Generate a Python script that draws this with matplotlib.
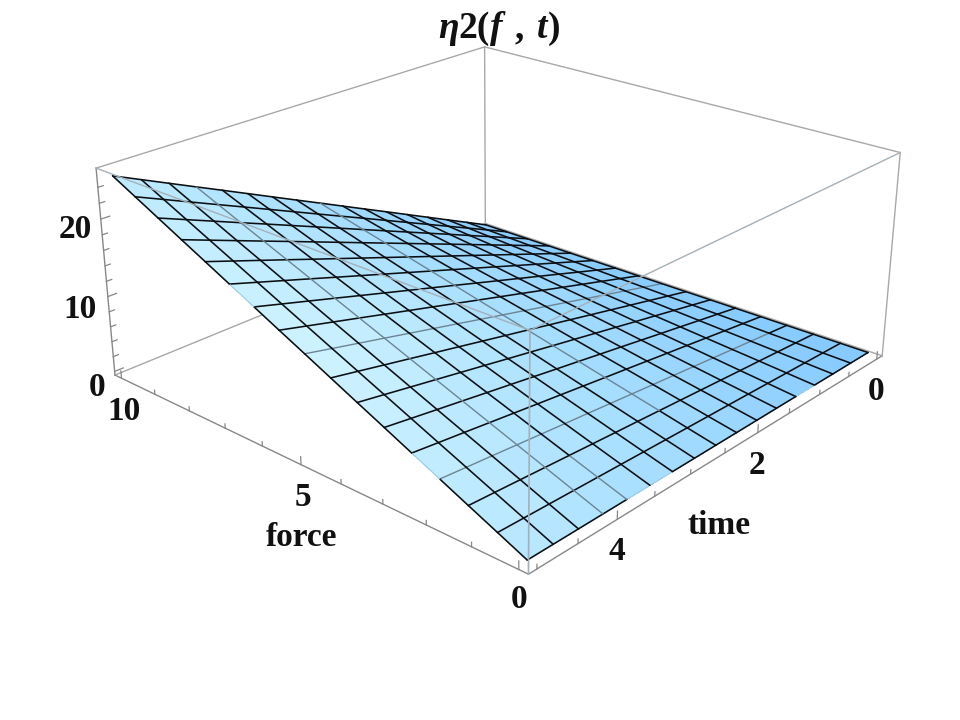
import matplotlib
matplotlib.use('Agg')
import matplotlib.pyplot as plt
from matplotlib.colors import LinearSegmentedColormap
import numpy as np

plt.rcParams['font.family'] = ['Liberation Serif', 'DejaVu Serif']
plt.rcParams['font.weight'] = 'bold'

force = [0, 0.625, 1.25, 1.875, 2.5, 3.125, 3.75, 4.375, 5, 5.625, 6.25, 6.875, 7.5, 8.125, 8.75, 9.375, 10]
time = [0, 0.3125, 0.625, 0.9375, 1.25, 1.5625, 1.875, 2.1875, 2.5, 2.8125, 3.125, 3.4375, 3.75, 4.0625, 4.375, 4.6875, 5]

# eta2, one row per force value, one column per time value
eta2 = [
    [0, 0, 0, 0, 0, 0, 0, 0, 0, 0, 0, 0, 0, 0, 0, 0, 0],
    [0, .10, .20, .30, .40, .50, .60, .69, .79, .89, .99, 1.09, 1.19, 1.29, 1.39, 1.49, 1.59],
    [0, .20, .40, .60, .79, .99, 1.19, 1.39, 1.59, 1.79, 1.98, 2.18, 2.38, 2.58, 2.78, 2.98, 3.17],
    [0, .30, .60, .89, 1.19, 1.49, 1.79, 2.08, 2.38, 2.68, 2.98, 3.27, 3.57, 3.87, 4.17, 4.46, 4.76],
    [0, .40, .79, 1.19, 1.59, 1.98, 2.38, 2.78, 3.17, 3.57, 3.97, 4.36, 4.76, 5.16, 5.56, 5.95, 6.35],
    [0, .50, .99, 1.49, 1.98, 2.48, 2.98, 3.47, 3.97, 4.46, 4.96, 5.46, 5.95, 6.45, 6.94, 7.44, 7.94],
    [0, .60, 1.19, 1.79, 2.38, 2.98, 3.57, 4.17, 4.76, 5.36, 5.95, 6.55, 7.14, 7.74, 8.33, 8.93, 9.52],
    [0, .69, 1.39, 2.08, 2.78, 3.47, 4.17, 4.86, 5.56, 6.25, 6.94, 7.64, 8.33, 9.03, 9.72, 10.42, 11.11],
    [0, .79, 1.59, 2.38, 3.17, 3.97, 4.76, 5.56, 6.35, 7.14, 7.94, 8.73, 9.52, 10.32, 11.11, 11.90, 12.70],
    [0, .89, 1.79, 2.68, 3.57, 4.46, 5.36, 6.25, 7.14, 8.04, 8.93, 9.82, 10.71, 11.61, 12.50, 13.39, 14.28],
    [0, .99, 1.98, 2.98, 3.97, 4.96, 5.95, 6.94, 7.94, 8.93, 9.92, 10.91, 11.90, 12.90, 13.89, 14.88, 15.87],
    [0, 1.09, 2.18, 3.27, 4.36, 5.46, 6.55, 7.64, 8.73, 9.82, 10.91, 12.00, 13.09, 14.19, 15.28, 16.37, 17.46],
    [0, 1.19, 2.38, 3.57, 4.76, 5.95, 7.14, 8.33, 9.52, 10.71, 11.90, 13.09, 14.28, 15.48, 16.67, 17.86, 19.05],
    [0, 1.29, 2.58, 3.87, 5.16, 6.45, 7.74, 9.03, 10.32, 11.61, 12.90, 14.19, 15.48, 16.76, 18.05, 19.34, 20.63],
    [0, 1.39, 2.78, 4.17, 5.56, 6.94, 8.33, 9.72, 11.11, 12.50, 13.89, 15.28, 16.67, 18.05, 19.44, 20.83, 22.22],
    [0, 1.49, 2.98, 4.46, 5.95, 7.44, 8.93, 10.42, 11.90, 13.39, 14.88, 16.37, 17.86, 19.34, 20.83, 22.32, 23.81],
    [0, 1.59, 3.17, 4.76, 6.35, 7.94, 9.52, 11.11, 12.70, 14.28, 15.87, 17.46, 19.05, 20.63, 22.22, 23.81, 25.40],
]

force_ticks = [0, 1, 2, 3, 4, 5, 6, 7, 8, 9, 10]
force_major = [0, 5, 10]
time_ticks = [0, 0.5, 1, 1.5, 2, 2.5, 3, 3.5, 4, 4.5, 5]
time_major = [0, 2, 4]
eta_ticks = [0, 2, 4, 6, 8, 10, 12, 14, 16, 18, 20, 22, 24]
eta_major = [0, 10, 20]

# mesh lines that come out thin and grey in the original: line index -> (first, last) cross index
grey_force = {3: (1, 16), 8: (0, 16)}
grey_time = {8: (2, 16), 12: (0, 2), 13: (0, 16)}
# pieces of the surface outline that fade out
pale_force = {0: [(3, 4), (10, 12)]}
pale_time = {16: [(3, 4), (10, 11)]}

fmin, fmax = -0.2, 10.2
tmin, tmax = -0.1, 5.1
zmin, zmax = -0.5, 26.4


def box_line(ax, a, b, color, order, lw=1.0):
    ax.plot(*zip(a, b), color=color, lw=lw, zorder=order, clip_on=False)


def draw_box(ax):
    dark, light = '#888888', '#a8a8a8'
    # floor, the two front edges are darker
    box_line(ax, (fmin, tmax, zmin), (fmax, tmax, zmin), dark, 0)
    box_line(ax, (fmin, tmax, zmin), (fmin, tmin, zmin), dark, 0)
    box_line(ax, (fmax, tmin, zmin), (fmax, tmax, zmin), light, 0)
    box_line(ax, (fmax, tmin, zmin), (fmin, tmin, zmin), light, 0)
    # verticals and top edges at the back
    box_line(ax, (fmax, tmax, zmin), (fmax, tmax, zmax), dark, 0)
    box_line(ax, (fmin, tmin, zmin), (fmin, tmin, zmax), light, 0)
    box_line(ax, (fmax, tmin, zmin), (fmax, tmin, zmax), light, 0)
    box_line(ax, (fmax, tmin, zmax), (fmax, tmax, zmax), light, 0)
    box_line(ax, (fmax, tmin, zmax), (fmin, tmin, zmax), light, 0)
    # in front of the surface
    box_line(ax, (fmin, tmax, zmin), (fmin, tmax, zmax), '#a4b0b8', 4, 1.2)
    box_line(ax, (fmin, tmax, zmax), (fmax, tmax, zmax), '#a4b0b8', 4)
    box_line(ax, (fmin, tmax, zmax), (fmin, tmin, zmax), '#a4b0b8', 4)


def draw_ticks(ax):
    for f in force_ticks:
        h = 1.0 if f in force_major else 0.55
        box_line(ax, (f, tmax, zmin), (f, tmax, zmin + h), '#888888', 0, 0.9)
    for t in time_ticks:
        h = 1.0 if t in time_major else 0.55
        box_line(ax, (fmin, t, zmin), (fmin, t, zmin + h), '#888888', 0, 0.9)
    for z in eta_ticks:
        h = 0.1 if z in eta_major else 0.06
        box_line(ax, (fmax, tmax, z), (fmax, tmax - h, z), '#888888', 0, 0.9)


def draw_mesh(ax, X, Y, Z):
    black, grey, pale = '#0c0f12', '#6c8492', '#9cccE6'
    n = len(force)
    for i in range(n):
        for j in range(n - 1):
            g = grey_force.get(i)
            color, lw = black, 1.15
            if g and g[0] <= j < g[1]:
                color, lw = grey, 1.0
            if any(a <= j < b for a, b in pale_force.get(i, [])):
                color, lw = pale, 0.8
            ax.plot(X[i, j:j + 2], Y[i, j:j + 2], Z[i, j:j + 2], color=color, lw=lw, zorder=2,
                    solid_capstyle='round', clip_on=False)
    for j in range(n):
        for i in range(n - 1):
            g = grey_time.get(j)
            color, lw = black, 1.15
            if g and g[0] <= i < g[1]:
                color, lw = grey, 1.0
            if any(a <= i < b for a, b in pale_time.get(j, [])):
                color, lw = pale, 0.8
            ax.plot(X[i:i + 2, j], Y[i:i + 2, j], Z[i:i + 2, j], color=color, lw=lw, zorder=2,
                    solid_capstyle='round', clip_on=False)


def main():
    fig = plt.figure(figsize=(9.6, 7.2), dpi=100)
    ax = fig.add_axes([0.0993, 0.0658, 0.8265, 1.102], projection='3d', computed_zorder=False)
    ax.set_xlim(fmin, fmax, view_margin=0)
    ax.set_ylim(tmin, tmax, view_margin=0)
    ax.set_zlim(zmin, zmax, view_margin=0)
    ax.view_init(elev=22.993, azim=131.814)
    ax.set_proj_type('persp', focal_length=0.431)
    ax.set_box_aspect((1, 1.003, 0.401))
    ax.set_axis_off()

    X, Y = np.meshgrid(force, time, indexing='ij')
    Z = np.array(eta2)

    # palest along the middle of the time=5 edge, deeper blue towards time 0
    cmap = LinearSegmentedColormap.from_list('sky', ['#84C9FF', '#A8DFFF', '#CDF2FF'])
    xc = (X[:-1, :-1] + X[1:, 1:]) / 2 / 10
    yc = (Y[:-1, :-1] + Y[1:, 1:]) / 2 / 5
    bump = 1 - np.abs(2 * xc - 1)
    faces = cmap(np.clip(yc * (0.72 + 0.28 * bump) + 0.08 * xc, 0, 1))

    draw_box(ax)
    draw_ticks(ax)
    ax.plot_surface(X, Y, Z, rstride=1, cstride=1, facecolors=faces, edgecolor='none',
                    linewidth=0, shade=False, antialiased=False, zorder=1)
    draw_mesh(ax, X, Y, Z)

    labels = [('20', 75, 230), ('10', 80, 310), ('0', 97, 387),
              ('10', 124, 411), ('5', 303, 497), ('0', 519, 600),
              ('0', 876, 392), ('2', 757, 465), ('4', 617, 552),
              ('force', 302, 537), ('time', 719, 525)]
    for s, px, py in labels:
        fig.text(px / 960, 1 - py / 720, s, fontsize=24, ha='center', va='center', color='#111111')

    # title pieces, some of them italic
    title = [('η', 438, 'italic'), ('2(', 458, 'normal'), ('f', 490, 'italic'),
             (',', 515, 'normal'), ('t', 537, 'italic'), (')', 548, 'normal')]
    for s, px, style in title:
        fig.text(px / 960, 1 - 38 / 720, s, fontsize=27, style=style, ha='left', va='baseline', color='#111111')

    fig.savefig('out.png', dpi=100)


if __name__ == "__main__":
    main()
